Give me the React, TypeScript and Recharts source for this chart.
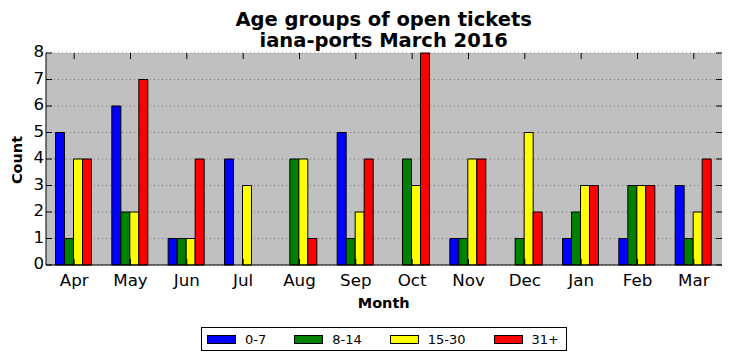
import { BarChart, Bar, XAxis, YAxis, CartesianGrid } from "recharts";

const months = ["Apr", "May", "Jun", "Jul", "Aug", "Sep", "Oct", "Nov", "Dec", "Jan", "Feb", "Mar"];
const age0to7 = [5, 6, 1, 4, 0, 5, 0, 1, 0, 1, 1, 3];
const age8to14 = [1, 2, 1, 0, 4, 1, 4, 1, 1, 2, 3, 1];
const age15to30 = [4, 2, 1, 3, 4, 2, 3, 4, 5, 3, 3, 2];
const age31plus = [4, 7, 4, 0, 1, 4, 8, 4, 2, 3, 3, 4];
const countTicks = [0, 1, 2, 3, 4, 5, 6, 7, 8];

const series = [
    { key: "a0", name: "0-7", color: "#0000ff", values: age0to7 },
    { key: "a8", name: "8-14", color: "#008000", values: age8to14 },
    { key: "a15", name: "15-30", color: "#ffff00", values: age15to30 },
    { key: "a31", name: "31+", color: "#ff0000", values: age31plus },
];

const data = months.map((month, i) => {
    const row: Record<string, string | number> = { month };
    series.forEach((s) => (row[s.key] = s.values[i]));
    return row;
});

const FONT = "'DejaVu Sans', sans-serif";
const PLOT_L = 46;
const PLOT_R = 722;
const PLOT_T = 53;
const PLOT_B = 265;
const TICK = 6;

const MonthTick = (props: any) => {
    const { x, payload } = props;
    return (
        <g>
            <line x1={x} x2={x} y1={PLOT_B} y2={PLOT_B - TICK} stroke="#000" />
            <line x1={x} x2={x} y1={PLOT_T} y2={PLOT_T + TICK} stroke="#000" />
            <text x={x} y={285.5} textAnchor="middle" fontSize={16.7} fontFamily={FONT} fill="#000">
                {payload.value}
            </text>
        </g>
    );
};

const CountTick = (props: any) => {
    const { y, payload } = props;
    return (
        <g>
            <line x1={PLOT_L} x2={PLOT_L + TICK} y1={y} y2={y} stroke="#000" />
            <line x1={PLOT_R} x2={PLOT_R - TICK} y1={y} y2={y} stroke="#000" />
            <text x={44} y={y + 4} textAnchor="end" fontSize={16.7} fontFamily={FONT} fill="#000">
                {payload.value}
            </text>
        </g>
    );
};

export default function App() {
    return (
        <div style={{ position: "fixed", left: 0, top: 0, width: 731, height: 361, background: "#fff", fontFamily: FONT }}>
            <BarChart
                width={731}
                height={361}
                data={data}
                margin={{ top: PLOT_T, right: 731 - PLOT_R, bottom: 66, left: 0 }}
                barCategoryGap={9.5}
                barGap={0}
            >
                <CartesianGrid vertical={false} stroke="#7a7a7a" strokeDasharray="1 3" fill="#c0c0c0" fillOpacity={1} />
                <XAxis dataKey="month" height={30} axisLine={{ stroke: "#000" }} tickLine={false} tick={<MonthTick />} interval={0} />
                <XAxis xAxisId="top" dataKey="month" orientation="top" height={0} axisLine={{ stroke: "#000" }} tickLine={false} tick={false} />
                <YAxis width={PLOT_L} domain={[0, 8]} ticks={countTicks} axisLine={{ stroke: "#000" }} tickLine={false} tick={<CountTick />} />
                <YAxis yAxisId="right" orientation="right" width={0} domain={[0, 8]} axisLine={{ stroke: "#000" }} tickLine={false} tick={false} />
                {series.map((s) => (
                    <Bar key={s.key} dataKey={s.key} name={s.name} fill={s.color} stroke="#000" strokeWidth={1} isAnimationActive={false} />
                ))}
            </BarChart>
            <svg width={731} height={361} style={{ position: "absolute", left: 0, top: 0, pointerEvents: "none" }}>
                <text x={383.7} y={26} textAnchor="middle" fontSize={19.5} fontWeight="bold" fontFamily={FONT}>
                    Age groups of open tickets
                </text>
                <text x={383.7} y={47} textAnchor="middle" fontSize={19.5} fontWeight="bold" fontFamily={FONT}>
                    iana-ports March 2016
                </text>
                <text x={383.7} y={307.7} textAnchor="middle" fontSize={14.5} fontWeight="bold" fontFamily={FONT}>
                    Month
                </text>
                <text transform="translate(21.5,160) rotate(-90)" textAnchor="middle" fontSize={14.5} fontWeight="bold" fontFamily={FONT}>
                    Count
                </text>
            </svg>
            <div
                style={{
                    position: "absolute",
                    left: 201,
                    top: 327,
                    width: 366,
                    height: 24,
                    border: "1px solid #000",
                    boxSizing: "border-box",
                    background: "#fff",
                    display: "flex",
                    alignItems: "center",
                    paddingLeft: 5,
                    fontSize: 13,
                }}
            >
                {series.map((s, i) => (
                    <div key={s.key} style={{ display: "flex", alignItems: "center", marginRight: i < series.length - 1 ? 28 : 0 }}>
                        <span style={{ display: "inline-block", width: 29, height: 9, background: s.color, border: "1px solid #000", boxSizing: "border-box", marginRight: 9 }} />
                        <span>{s.name}</span>
                    </div>
                ))}
            </div>
        </div>
    );
}
